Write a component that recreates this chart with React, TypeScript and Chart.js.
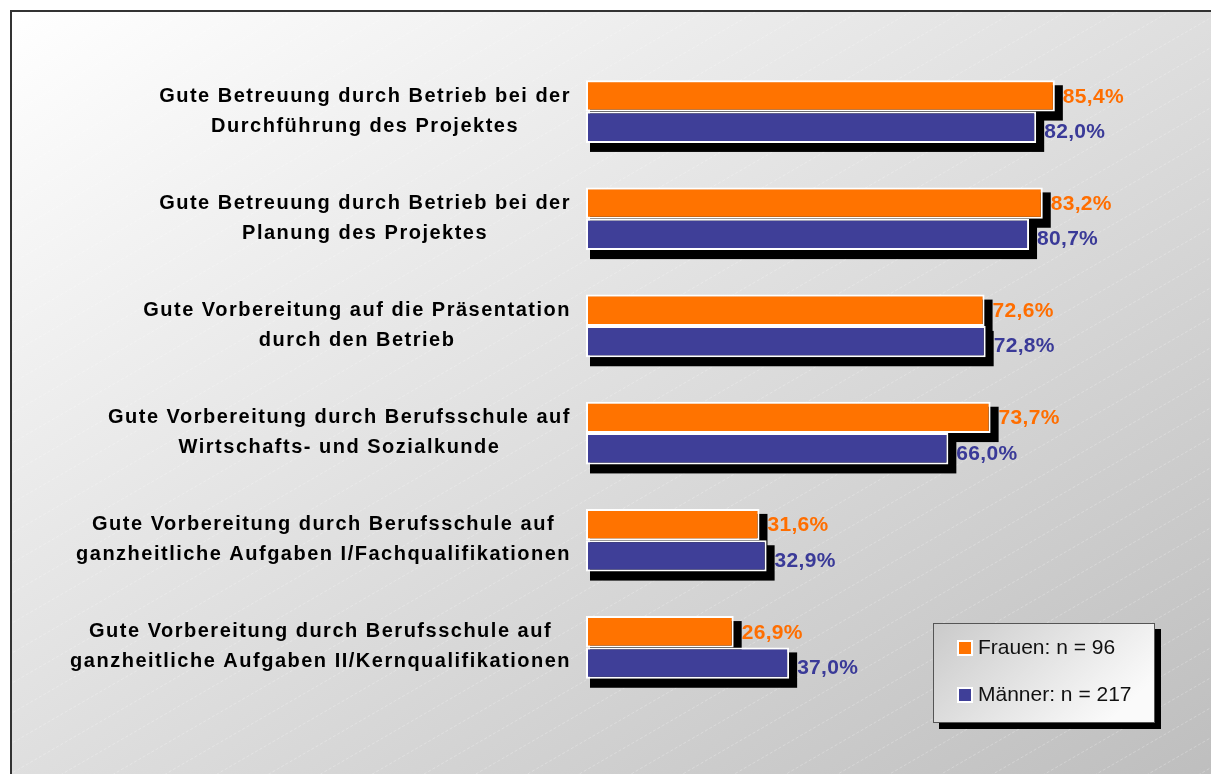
import React, { useEffect, useRef } from "react";
import { Chart, registerables } from "chart.js";

Chart.register(...registerables);

const categories: string[][] = [
  ["Gute Betreuung durch Betrieb bei der", "Durchführung des Projektes"],
  ["Gute Betreuung durch Betrieb bei der", "Planung des Projektes"],
  ["Gute Vorbereitung auf die Präsentation", "durch den Betrieb"],
  ["Gute Vorbereitung durch Berufsschule auf", "Wirtschafts- und Sozialkunde"],
  ["Gute Vorbereitung durch Berufsschule auf", "ganzheitliche Aufgaben I/Fachqualifikationen"],
  ["Gute Vorbereitung durch Berufsschule auf", "ganzheitliche Aufgaben II/Kernqualifikationen"],
];
const frauen: number[] = [85.4, 83.2, 72.6, 73.7, 31.6, 26.9];
const maenner: number[] = [82.0, 80.7, 72.8, 66.0, 32.9, 37.0];
const seriesNames: string[] = ["Frauen: n = 96", "Männer: n = 217"];

const ORANGE = "#FF7300";
const BLUE = "#3F3F98";
const ORANGE_TXT = "#FF6E00";
const BLUE_TXT = "#3A3A98";
const FONT = "'Liberation Sans', Arial, sans-serif";

const bgPlugin = {
  id: "bgFrame",
  beforeDraw(chart: any) {
    const ctx = chart.ctx as CanvasRenderingContext2D;
    const x0 = 10, y0 = 10;
    const W = chart.width - x0 + 4;
    const H = chart.height - y0 + 4;
    ctx.save();
    ctx.fillStyle = "#ffffff";
    ctx.fillRect(0, 0, chart.width, chart.height);
    const s = (2 * W * H) / (W * W + H * H);
    const g = ctx.createLinearGradient(x0, y0, x0 + H * s, y0 + W * s);
    g.addColorStop(0, "#ffffff");
    g.addColorStop(1, "#bebebe");
    ctx.fillStyle = g;
    ctx.fillRect(x0, y0, W, H);
    ctx.beginPath();
    ctx.rect(x0 + 1, y0 + 1, W, H);
    ctx.clip();
    ctx.strokeStyle = "rgba(255,255,255,0.25)";
    ctx.lineWidth = 1;
    ctx.setLineDash([3, 2]);
    const slope = 0.58;
    for (let c = 0; c < chart.height + chart.width * slope + 40; c += 30) {
      ctx.beginPath();
      ctx.moveTo(0, c);
      ctx.lineTo(chart.width, c - chart.width * slope);
      ctx.stroke();
    }
    ctx.setLineDash([]);
    ctx.restore();
    ctx.save();
    ctx.strokeStyle = "#333333";
    ctx.lineWidth = 2;
    ctx.strokeRect(x0 + 1, y0 + 1, W + 10, H + 10);
    ctx.restore();
  },
};

const shadowPlugin = {
  id: "barShadow",
  beforeDatasetsDraw(chart: any) {
    const ctx = chart.ctx as CanvasRenderingContext2D;
    ctx.save();
    ctx.fillStyle = "#000000";
    chart.data.datasets.forEach((_: any, di: number) => {
      const meta = chart.getDatasetMeta(di);
      meta.data.forEach((el: any) => {
        const p = el.getProps(["x", "y", "base", "height"], true);
        const left = Math.min(p.base, p.x);
        const right = Math.max(p.base, p.x);
        const top = p.y - p.height / 2;
        const bottom = p.y + p.height / 2;
        ctx.fillRect(left + 4, top + 5, right - left + 4, bottom - top + 4);
      });
    });
    ctx.restore();
  },
};

const labelPlugin = {
  id: "labels",
  afterDatasetsDraw(chart: any) {
    const ctx = chart.ctx as CanvasRenderingContext2D;
    const colors = [ORANGE_TXT, BLUE_TXT];
    const dy = [0, 4];
    ctx.save();
    ctx.font = `bold 21px ${FONT}`;
    (ctx as any).letterSpacing = "0.3px";
    ctx.textAlign = "left";
    ctx.textBaseline = "middle";
    chart.data.datasets.forEach((ds: any, di: number) => {
      const meta = chart.getDatasetMeta(di);
      meta.data.forEach((el: any, i: number) => {
        const p = el.getProps(["x", "y", "base"], true);
        const right = Math.max(p.base, p.x);
        const txt = Number(ds.data[i]).toFixed(1).replace(".", ",") + "%";
        ctx.fillStyle = colors[di];
        ctx.fillText(txt, right + 8, p.y + 1 + dy[di]);
      });
    });
    const yScale = chart.scales.y;
    const rightEdge = chart.chartArea.left - 15;
    ctx.font = `bold 20px ${FONT}`;
    (ctx as any).letterSpacing = "1.5px";
    ctx.fillStyle = "#000000";
    ctx.textAlign = "center";
    ctx.textBaseline = "alphabetic";
    (chart.data.labels as string[][]).forEach((lines, i) => {
      const cy = yScale.getPixelForValue(i);
      const widest = Math.max(...lines.map((l) => ctx.measureText(l).width));
      const cx = rightEdge - widest / 2;
      lines.forEach((l, k) => {
        ctx.fillText(l, cx, cy - 10 + k * 30);
      });
    });
    (ctx as any).letterSpacing = "0px";
    ctx.restore();
  },
  afterDraw(chart: any) {
    const ctx = chart.ctx as CanvasRenderingContext2D;
    const bx = 933, by = 623, bw = 222, bh = 100;
    ctx.save();
    ctx.fillStyle = "#000000";
    ctx.fillRect(bx + 6, by + 6, bw, bh);
    const g = ctx.createLinearGradient(bx, by, bx + bw * 0.6, by + bh * 1.4);
    g.addColorStop(0, "#cacaca");
    g.addColorStop(1, "#fafafa");
    ctx.fillStyle = g;
    ctx.fillRect(bx, by, bw, bh);
    ctx.strokeStyle = "#555555";
    ctx.lineWidth = 1;
    ctx.strokeRect(bx + 0.5, by + 0.5, bw - 1, bh - 1);
    ctx.font = `21px ${FONT}`;
    ctx.textAlign = "left";
    ctx.textBaseline = "alphabetic";
    chart.data.datasets.forEach((ds: any, di: number) => {
      const my = by + 17 + di * 47;
      ctx.fillStyle = "#ffffff";
      ctx.fillRect(bx + 24, my, 16, 16);
      ctx.fillStyle = ds.backgroundColor;
      ctx.fillRect(bx + 26, my + 2, 12, 12);
      ctx.fillStyle = "#111111";
      ctx.fillText(ds.label, bx + 45, my + 14);
    });
    ctx.restore();
  },
};

export default function App() {
  const ref = useRef<HTMLCanvasElement | null>(null);
  useEffect(() => {
    if (!ref.current) return;
    const chart = new Chart(ref.current, {
      type: "bar",
      data: {
        labels: categories as any,
        datasets: [
          {
            label: seriesNames[0],
            data: frauen,
            backgroundColor: ORANGE,
            borderColor: "#ffffff",
            borderWidth: 2,
            borderSkipped: false,
          },
          {
            label: seriesNames[1],
            data: maenner,
            backgroundColor: BLUE,
            borderColor: "#ffffff",
            borderWidth: 2,
            borderSkipped: false,
          },
        ],
      },
      options: {
        indexAxis: "y",
        responsive: false,
        animation: false,
        devicePixelRatio: 1,
        layout: { padding: { left: 586, right: 76, top: 58, bottom: 73 } },
        datasets: { bar: { categoryPercentage: 0.585, barPercentage: 1.0 } },
        scales: {
          x: { display: false, min: 0, max: 100 },
          y: { display: false },
        },
        plugins: {
          legend: { display: false },
          tooltip: { enabled: false },
          title: { display: false },
        },
      },
      plugins: [bgPlugin, shadowPlugin, labelPlugin],
    });
    return () => chart.destroy();
  }, []);
  return (
    <div style={{ position: "fixed", left: 0, top: 0, width: 1211, height: 774 }}>
      <canvas ref={ref} width={1211} height={774} style={{ width: 1211, height: 774, display: "block" }} />
    </div>
  );
}
